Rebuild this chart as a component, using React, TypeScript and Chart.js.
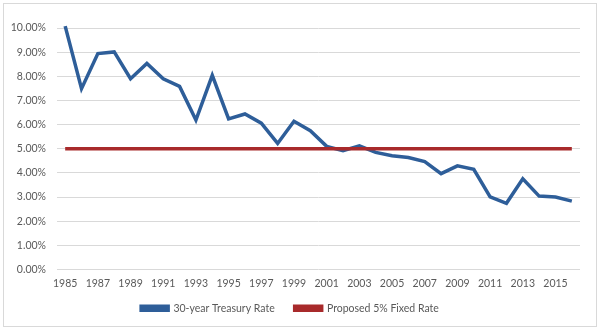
import React, { useEffect, useRef } from "react";
import { Chart, registerables } from "chart.js";

Chart.register(...registerables);

const years = [
  "1985","1986","1987","1988","1989","1990","1991","1992","1993","1994","1995","1996","1997","1998","1999","2000",
  "2001","2002","2003","2004","2005","2006","2007","2008","2009","2010","2011","2012","2013","2014","2015","2016",
];
const treasury = [
  10.08, 7.49, 8.94, 9.01, 7.9, 8.53, 7.9, 7.58, 6.19, 8.04, 6.24, 6.44, 6.06, 5.22, 6.14, 5.75,
  5.1, 4.92, 5.12, 4.85, 4.71, 4.64, 4.47, 3.97, 4.29, 4.15, 3.01, 2.74, 3.76, 3.04, 3.0, 2.83,
];
const fixedRate = years.map(() => 5);
const seriesNames = ["30-year Treasury Rate", "Proposed 5% Fixed Rate"];

const FONT = "Lato, 'Open Sans', sans-serif";
const TXT = "#595959";

const legendShift = {
  id: "legendShift",
  afterLayout(chart: any) {
    const lg = chart.legend;
    if (lg) {
      const d = lg.top - 283;
      lg.top -= d;
      lg.bottom -= d;
    }
  },
};

export default function App() {
  const ref = useRef<HTMLCanvasElement>(null);
  useEffect(() => {
    document.body.style.margin = "0";
    const chart = new Chart(ref.current!, {
      type: "line",
      plugins: [legendShift],
      data: {
        labels: years,
        datasets: [
          {
            label: seriesNames[0],
            data: treasury,
            borderColor: "#2E5E99",
            backgroundColor: "#2E5E99",
            borderWidth: 3.5,
            pointRadius: 0,
            tension: 0,
            clip: false,
            order: 1,
          },
          {
            label: seriesNames[1],
            data: fixedRate,
            borderColor: "#A82A2B",
            backgroundColor: "#A82A2B",
            borderWidth: 3.5,
            pointRadius: 0,
            tension: 0,
            clip: false,
            order: 0,
          },
        ],
      },
      options: {
        animation: false,
        responsive: false,
        layout: { padding: { top: 28, right: 20, left: 0, bottom: 0 } },
        plugins: {
          tooltip: { enabled: false },
          legend: {
            position: "bottom",
            labels: {
              boxWidth: 27,
              boxHeight: 4,
              padding: 20,
              color: TXT,
              font: { family: FONT, size: 10.5 },
              sort: (a: any, b: any) => a.datasetIndex - b.datasetIndex,
            },
          },
        },
        scales: {
          x: {
            offset: true,
            grid: { display: false, drawTicks: false },
            border: { display: false },
            ticks: {
              autoSkip: false,
              maxRotation: 0,
              padding: 8,
              color: TXT,
              font: { family: FONT, size: 10.5 },
              callback: (_v: any, i: number) => (i % 2 === 0 ? years[i] : ""),
            },
            afterFit: (s: any) => {
              s.height = 20;
            },
          },
          y: {
            min: 0,
            max: 10,
            ticks: {
              stepSize: 1,
              padding: 11,
              color: TXT,
              font: { family: FONT, size: 10.5 },
              callback: (v: any) => Number(v).toFixed(2) + "%",
            },
            grid: { color: "#D9D9D9", lineWidth: 1, drawTicks: false },
            border: { display: false },
            afterFit: (s: any) => {
              s.width = 57;
            },
          },
        },
      },
    });
    return () => chart.destroy();
  }, []);
  return (
    <div style={{ position: "relative", width: 600, height: 330, background: "#fff" }}>
      <div
        style={{
          position: "absolute",
          left: 3,
          top: 3,
          width: 592,
          height: 322,
          border: "1px solid #D9D9D9",
        }}
      />
      <canvas ref={ref} width={600} height={330} style={{ position: "absolute", left: 0, top: 0 }} />
    </div>
  );
}
